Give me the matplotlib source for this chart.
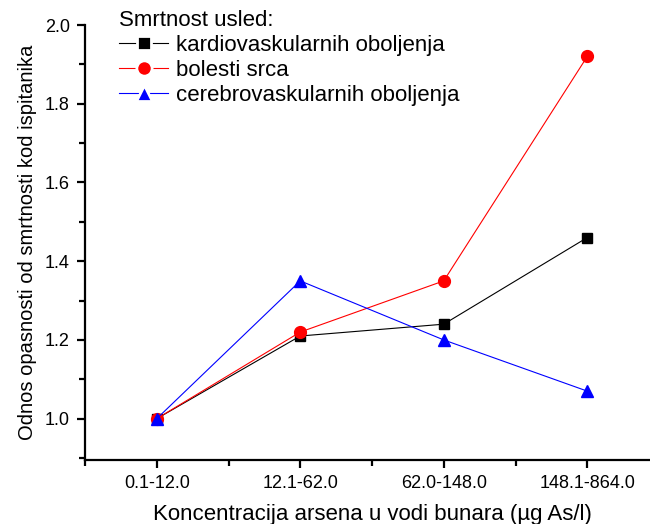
import matplotlib
matplotlib.use("Agg")
import matplotlib.pyplot as plt
from matplotlib.ticker import FixedLocator
from matplotlib.legend_handler import HandlerLine2D

plt.rcParams['font.family'] = ['Liberation Sans', 'DejaVu Sans']

categories = ["0.1-12.0", "12.1-62.0", "62.0-148.0", "148.1-864.0"]
kardio = [1.00, 1.21, 1.24, 1.46]
srce = [1.00, 1.22, 1.35, 1.92]
cerebro = [1.00, 1.35, 1.20, 1.07]
series_names = ["kardiovaskularnih oboljenja", "bolesti srca", "cerebrovaskularnih oboljenja"]
legend_title = "Smrtnost usled:"
xlabel = "Koncentracija arsena u vodi bunara (\u00b5g As/l)"
ylabel = "Odnos opasnosti od smrtnosti kod ispitanika"

fig = plt.figure(figsize=(6.5, 5.24), dpi=100)
x0, x1 = 85/650, 659/650
y0, y1 = (524-460)/524, (524-25)/524
ax = fig.add_axes([x0, y0, x1-x0, y1-y0])

xs = list(range(len(categories)))
ax.plot(xs, kardio, color='black', lw=0.8, marker='s', ms=7.5, label=series_names[0], zorder=3)
ax.plot(xs, srce, color='red', lw=0.8, marker='o', ms=8.5, label=series_names[1], zorder=3)
ax.plot(xs, cerebro, color='blue', lw=0.8, marker='^', ms=9, label=series_names[2], zorder=3)

ax.set_xlim(-0.5, 3.5)
ax.set_ylim(0.895, 2.0)
ax.set_xticks(xs)
ax.set_xticklabels(categories, fontsize=13)
ax.xaxis.set_minor_locator(FixedLocator([-0.5, 0.5, 1.5, 2.5]))
ax.yaxis.set_major_locator(FixedLocator([1.0, 1.2, 1.4, 1.6, 1.8, 2.0]))
ax.yaxis.set_minor_locator(FixedLocator([0.9, 1.1, 1.3, 1.5, 1.7, 1.9]))
ax.set_yticklabels(["1.0", "1.2", "1.4", "1.6", "1.8", "2.0"], fontsize=13)

for s in ['top', 'right']:
    ax.spines[s].set_visible(False)
for s in ['left', 'bottom']:
    ax.spines[s].set_linewidth(1.6)
ax.tick_params(which='major', direction='out', length=6, width=1.6, pad=5)
ax.tick_params(which='minor', direction='out', length=4, width=1.6)
ax.tick_params(axis='x', which='major', pad=4.5)

ax.set_xlabel(xlabel, fontsize=16, labelpad=9)
ax.set_ylabel(ylabel, fontsize=14.5, labelpad=5.5)


def gap_marker(handle, orig):
    handle.update_from(orig)
    if handle.get_marker() not in (None, 'None', ''):
        handle.set_markeredgecolor('white')
        handle.set_markeredgewidth(2.0)
        handle.set_markersize(orig.get_markersize() + 2.5)


hmap = {h: HandlerLine2D(update_func=gap_marker) for h in ax.get_lines()}
leg = ax.legend(title=legend_title, loc='upper left', bbox_to_anchor=(0.044, 1.055),
                frameon=False, fontsize=16, title_fontsize=16, handlelength=2.2,
                handletextpad=0.35, labelspacing=0.18, borderaxespad=0,
                handler_map=hmap)
leg._legend_box.align = "left"

fig.savefig("out.png", dpi=100)
